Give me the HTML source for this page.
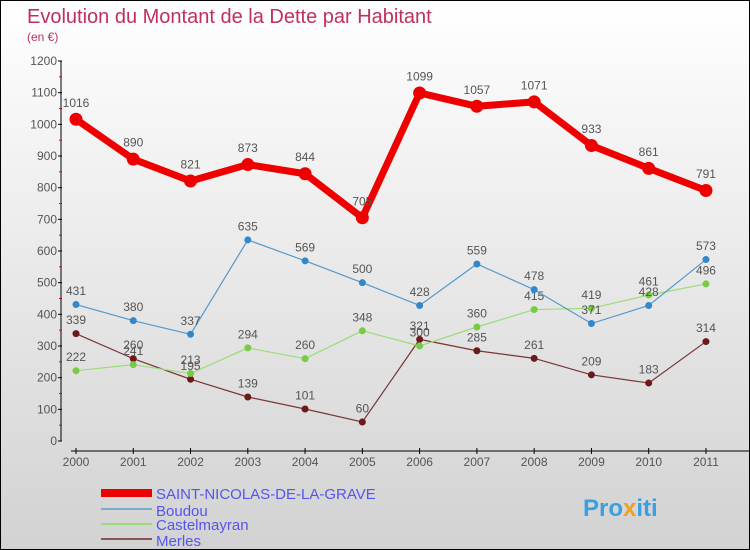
<!DOCTYPE html>
<html><head><meta charset="utf-8"><style>
body{margin:0;}
#wrap{width:748px;height:548px;border:1px solid #000;background:linear-gradient(#fff,#d2d2d2);position:relative;font-family:"Liberation Sans",sans-serif;overflow:hidden}
svg{position:absolute;left:0;top:0}
</style></head><body>
<div id="wrap">
<svg id="chart" width="748" height="548">
<text x="26" y="22" font-size="20" fill="#c0305a">Evolution du Montant de la Dette par Habitant</text>
<text x="26" y="40" font-size="12" fill="#c0305a">(en €)</text>
<g id="axes"></g><g id="series"></g>
<g>
<rect x="100" y="488" width="51" height="8" fill="#e00"/>
<text x="155" y="498" font-size="15" fill="#5555ee">SAINT-NICOLAS-DE-LA-GRAVE</text>
<rect x="100" y="507" width="51" height="2" fill="#7aaacc"/>
<text x="155" y="515" font-size="15" fill="#5555ee">Boudou</text>
<rect x="100" y="522" width="51" height="2" fill="#99dd77"/>
<text x="155" y="529" font-size="15" fill="#5555ee">Castelmayran</text>
<rect x="100" y="537" width="51" height="2" fill="#8a5555"/>
<text x="155" y="545" font-size="15" fill="#5555ee">Merles</text>
</g>
<text x="582" y="515" font-size="24" font-weight="bold" fill="#3aa0e0">Pro<tspan fill="#f0a020">x</tspan>iti</text>
</svg></div>
<script>
const years=["2000","2001","2002","2003","2004","2005","2006","2007","2008","2009","2010","2011"];
const saint=[1016,890,821,873,844,705,1099,1057,1071,933,861,791];
const boudou=[431,380,337,635,569,500,428,559,478,371,428,573];
const castel=[222,241,213,294,260,348,300,360,415,419,461,496];
const merles=[339,260,195,139,101,60,321,285,261,209,183,314];
const yTicks=[0,100,200,300,400,500,600,700,800,900,1000,1100,1200];
const NS="http://www.w3.org/2000/svg";
const X=i=>75+i*57.27, Y=v=>440-v*380/1200;
function mk(t,a,p){const e=document.createElementNS(NS,t);for(const k in a)e.setAttribute(k,a[k]);p.appendChild(e);return e;}
const ax=document.getElementById('axes');
let l=mk('line',{x1:60,y1:Y(1200),x2:60,y2:Y(0),stroke:'#000'},ax);


yTicks.forEach(v=>{mk('line',{x1:57,x2:61,y1:Y(v),y2:Y(v),stroke:'#000'},ax);
 if(v<1200)mk('line',{x1:58,x2:61,y1:Y(v+50),y2:Y(v+50),stroke:'#e00'},ax);
 const t=mk('text',{x:56,y:Y(v)+4,'text-anchor':'end','font-size':12,fill:'#555'},ax);t.textContent=v;
 
 });
l=mk('line',{x1:70,y1:450,x2:748,y2:450,stroke:'#000'},ax);


years.forEach((y,i)=>{mk('line',{x1:X(i),x2:X(i),y1:447,y2:453,stroke:'#000'},ax);
 const t=mk('text',{x:X(i),y:465,'text-anchor':'middle','font-size':12,fill:'#555'},ax);t.textContent=y;
 
 });
const sg=document.getElementById('series');
function draw(d,name,col,w,r,dot){
 const g=mk('g',{},sg);
 
 
 const p=mk('polyline',{points:d.map((v,i)=>X(i)+','+Y(v)).join(' '),fill:'none',stroke:col,'stroke-width':w},g);
 
 
 d.forEach((v,i)=>{const c=mk('circle',{cx:X(i),cy:Y(v),r:r,fill:dot},g);
  
  
  const t=mk('text',{x:X(i),y:Y(v)-r-6,'text-anchor':'middle','font-size':12,fill:'#555'},g);t.textContent=v;
  
  });
}
draw(merles,'merles','#7a3535',1.2,3.5,'#6a1a1a');
draw(castel,'castelmayran','#99dd77',1.2,3.5,'#77cc44');
draw(boudou,'boudou','#5599cc',1.2,3.5,'#3388cc');
draw(saint,'saint-nicolas','#e00',7,6.5,'#e00');
</script>
</body></html>
